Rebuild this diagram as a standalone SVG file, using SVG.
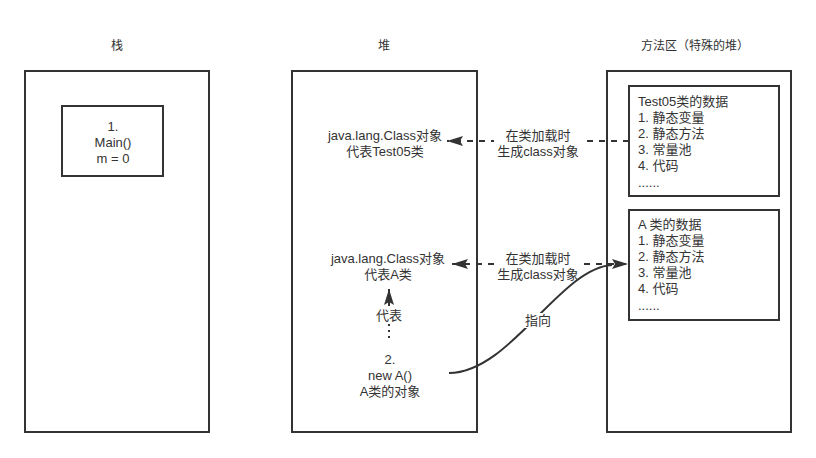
<svg xmlns="http://www.w3.org/2000/svg" width="816" height="458" viewBox="0 0 816 458">
<defs>
<style>
text{font-family:"Liberation Sans","Noto Sans CJK SC",sans-serif;font-size:13px;fill:#333;}
.c{text-anchor:middle;}
.t{font-size:12px;}
.box{fill:#fff;stroke:#333;stroke-width:2;}
.ln{fill:none;stroke:#333;stroke-width:2;}
.dash{stroke-dasharray:6 6;}
.dot{stroke-dasharray:2 4;}
</style>
<marker id="ah" viewBox="0 0 16 10" refX="16" refY="5" markerWidth="16" markerHeight="10" markerUnits="userSpaceOnUse" orient="auto-start-reverse">
<path d="M0,0 L16,5 L0,10 L3,5 Z" fill="#333"/>
</marker>
</defs>
<rect width="816" height="458" fill="#fff"/>
<g id="titles">
<text class="c t" x="117" y="50">栈</text>
<text class="c t" x="384" y="50">堆</text>
<text class="c t" x="695" y="50">方法区（特殊的堆）</text>
</g>
<g id="stack">
<rect class="box" x="25" y="71" width="184" height="361"/>
</g>
<g id="heap">
<rect class="box" x="292" y="71" width="185" height="361"/>
</g>
<g id="method-area">
<rect class="box" x="607" y="71" width="184" height="361"/>
</g>
<g id="main-frame">
<rect class="box" x="62" y="106" width="101" height="70"/>
<text class="c" x="113" y="131">1.</text>
<text class="c" x="113" y="147">Main()</text>
<text class="c" x="113" y="163">m = 0</text>
</g>
<g id="class-test05">
<text class="c" x="385" y="140">java.lang.Class对象</text>
<text class="c" x="385" y="156">代表Test05类</text>
</g>
<g id="class-a">
<text class="c" x="388" y="263">java.lang.Class对象</text>
<text class="c" x="388" y="279">代表A类</text>
</g>
<g id="obj-a">
<text class="c" x="390" y="364">2.</text>
<text class="c" x="390" y="380">new A()</text>
<text class="c" x="390" y="396">A类的对象</text>
</g>
<g id="test05-data">
<rect class="box" x="629" y="86" width="150" height="110"/>
<text x="638" y="106">Test05类的数据</text>
<text x="638" y="122">1. 静态变量</text>
<text x="638" y="138">2. 静态方法</text>
<text x="638" y="154">3. 常量池</text>
<text x="638" y="170">4. 代码</text>
<text x="638" y="187">......</text>
</g>
<g id="a-data">
<rect class="box" x="629" y="210" width="150" height="110"/>
<text x="638" y="229">A 类的数据</text>
<text x="638" y="245">1. 静态变量</text>
<text x="638" y="261">2. 静态方法</text>
<text x="638" y="277">3. 常量池</text>
<text x="638" y="293">4. 代码</text>
<text x="638" y="310">......</text>
</g>
<g id="connectors">
<line class="ln dash" x1="629" y1="141" x2="447" y2="141" marker-end="url(#ah)"/>
<rect x="494" y="127" width="88" height="30" fill="#fff"/>
<text class="c" x="538" y="140">在类加载时</text>
<text class="c" x="538" y="156">生成class对象</text>
<line class="ln dash" x1="452" y1="264" x2="628" y2="264" marker-start="url(#ah)" marker-end="url(#ah)"/>
<rect x="494" y="250" width="88" height="30" fill="#fff"/>
<text class="c" x="538" y="263">在类加载时</text>
<text class="c" x="538" y="279">生成class对象</text>
<path class="ln" d="M449,373 C510,373 560,268 612,265"/>
<rect x="524" y="313" width="28" height="15" fill="#fff"/>
<text class="c" x="538" y="325">指向</text>
<line class="ln dot" x1="389" y1="338" x2="389" y2="324"/>
<line class="ln" x1="389" y1="306" x2="389" y2="289" marker-end="url(#ah)"/>
<text class="c" x="389" y="320">代表</text>
</g>
</svg>
